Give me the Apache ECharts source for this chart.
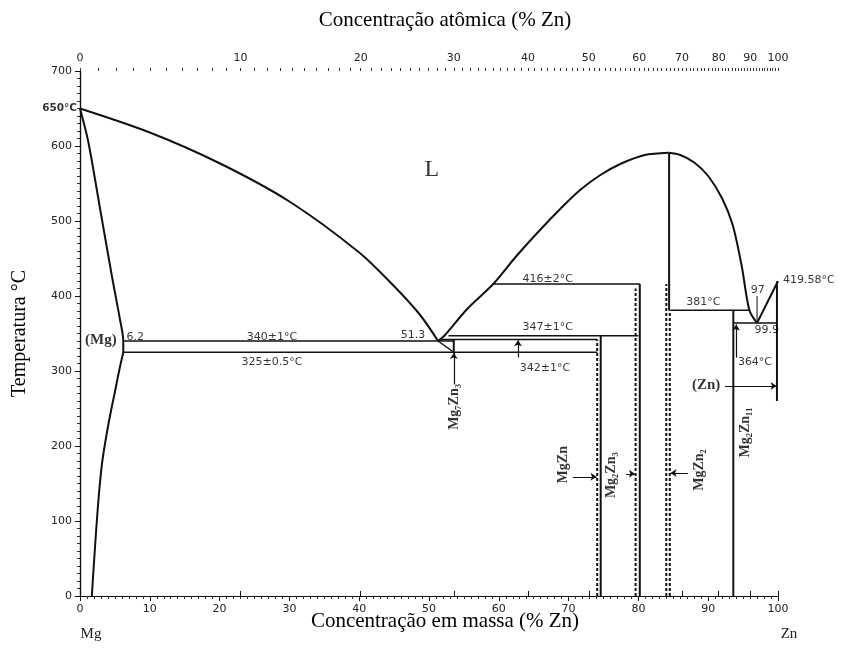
<!DOCTYPE html>
<html><head><meta charset="utf-8">
<script src="https://cdn.jsdelivr.net/npm/echarts@6/dist/echarts.min.js"></script>
<style>html,body{margin:0;padding:0;background:#fff}#chart{width:843px;height:657px}</style>
</head><body><div id="chart"></div>
<script>
// Mg–Zn equilibrium phase diagram (temperature vs. Zn content)

// axis ticks
const massTicks = [0, 10, 20, 30, 40, 50, 60, 70, 80, 90, 100];
const atomicTicks = [0, 10, 20, 30, 40, 50, 60, 70, 80, 90, 100];
const tempTicks = [0, 100, 200, 300, 400, 500, 600, 700];

// phase boundaries: [wt% Zn, °C]
const mgLiquidus = [[0, 650], [10, 618], [20, 577], [30, 526], [40, 458], [45, 413], [48.7, 375], [51.3, 340]];
const mgSolidus = [[0, 650], [1.2, 605], [2.9, 515], [4.6, 425], [5.7, 370], [6.2, 340], [6.2, 325]];
const mgSolvus = [[6.2, 325], [5.6, 300], [5.0, 272], [4.4, 245], [3.8, 215], [3.2, 180], [2.8, 145], [2.45, 105], [2.15, 65], [1.9, 30], [1.7, 0]];
const midLiquidus = [[51.3, 340], [52.3, 348], [55.5, 383], [59.2, 416], [62.5, 453], [65.9, 488], [68.8, 516], [71.6, 541], [74.5, 561], [77.4, 576], [80.9, 588], [84.3, 591]];
const mgZn2Liquidus = [[84.3, 591], [86, 588], [88, 578], [90, 560], [92, 530], [93.5, 495], [94.8, 440], [95.9, 381], [97, 364]];
const znLiquidus = [[97, 364], [98.5, 392], [100, 419.58]];
const eutecticTail = [[51.3, 340], [53.55, 325]];
const leader97 = [[97, 367], [97, 400]];

// invariant reactions: [from wt%, to wt%, °C]
const isotherms = [[6.2, 53.55, 340], [6.2, 74.1, 325], [51.6, 74.1, 342], [52.8, 80.0, 347], [59.2, 80.2, 416], [84.6, 95.9, 381], [93.6, 99.85, 364]];

// compound lines: [wt%, from °C, to °C]
const solidVerticals = [[53.55, 325, 342], [74.6, 0, 347], [80.2, 0, 416], [84.4, 381, 591], [93.6, 0, 381], [99.85, 260, 419.58]];
const dashedVerticals = [[74.1, 0, 342], [79.6, 0, 410], [84.0, 0, 416], [84.5, 0, 381]];

// arrows: [[x1, y1], [x2, y2]]
const arrows = [
  [[62.75, 318], [62.75, 341]],
  [[53.55, 282], [53.55, 324]],
  [[94.0, 318], [94.0, 362]],
  [[92.4, 280], [99.8, 280]],
  [[70.6, 159], [74.0, 159]],
  [[78.2, 163], [79.5, 163]],
  [[87.1, 164], [84.6, 164]]
];

// text annotations placed in data space
const annotations = [
  { text: '650°C', x: 0, y: 650, kind: 'numLeft' },
  { text: 'L', x: 50.4, y: 568, kind: 'big' },
  { text: '(Mg)', x: 3.0, y: 341, kind: 'serif' },
  { text: '6.2', x: 7.9, y: 345, kind: 'num' },
  { text: '340±1°C', x: 27.5, y: 345, kind: 'num' },
  { text: '325±0.5°C', x: 27.5, y: 312, kind: 'num' },
  { text: '51.3', x: 47.7, y: 348, kind: 'num' },
  { text: '347±1°C', x: 67, y: 359, kind: 'num' },
  { text: '342±1°C', x: 66.6, y: 304, kind: 'num' },
  { text: '416±2°C', x: 67, y: 423, kind: 'num' },
  { text: '381°C', x: 89.3, y: 392, kind: 'num' },
  { text: '97', x: 97.1, y: 408, kind: 'num' },
  { text: '419.58°C', x: 100, y: 421, kind: 'numRight' },
  { text: '99.9', x: 98.4, y: 355, kind: 'num' },
  { text: '364°C', x: 96.7, y: 312, kind: 'num' },
  { text: '(Zn)', x: 89.7, y: 281, kind: 'serif' },
  { text: 'Mg₇Zn₃', x: 53.7, y: 252, kind: 'rot' },
  { text: 'MgZn', x: 69.2, y: 175, kind: 'rot' },
  { text: 'Mg₂Zn₃', x: 76.2, y: 161, kind: 'rot' },
  { text: 'MgZn₂', x: 88.8, y: 168, kind: 'rot' },
  { text: 'Mg₂Zn₁₁', x: 95.3, y: 218, kind: 'rot' }
];

const M_ZN = 65.38, M_MG = 24.305;
const atToWt = a => 100 * a * M_ZN / (a * M_ZN + (100 - a) * M_MG);
const wtToAt = w => 100 * (w / M_ZN) / (w / M_ZN + (100 - w) / M_MG);

const minorAtomic = [];
for (let a = 0; a <= 100; a += 1) minorAtomic.push(atToWt(a));

const NUM_FONT = 'DejaVu Sans';
const SERIF = 'Liberation Serif';

function curve(data, width) {
  return {
    type: 'line', data, showSymbol: false, smooth: 0.3, silent: true,
    lineStyle: { color: '#111', width: width || 2 }, z: 3, clip: false
  };
}
function seg(data, width, dashed) {
  return {
    type: 'line', data, showSymbol: false, silent: true, clip: false,
    lineStyle: { color: '#111', width: width, type: dashed ? [3, 2] : 'solid' }, z: 3
  };
}

const series = [
  curve(mgLiquidus), curve(mgSolidus), curve(mgSolvus), curve(midLiquidus),
  curve(mgZn2Liquidus), curve(znLiquidus), seg(eutecticTail, 1.5), seg(leader97, 1)
];
isotherms.forEach(([a, b, t]) => series.push(seg([[a, t], [b, t]], 1.6)));
solidVerticals.forEach(([x, t0, t1]) => series.push(seg([[x, t0], [x, t1]], 2)));
dashedVerticals.forEach(([x, t0, t1]) => series.push(seg([[x, t0], [x, t1]], 2, true)));

series.push({
  type: 'lines', coordinateSystem: 'cartesian2d', silent: true,
  symbol: ['none', 'arrow'], symbolSize: 6,
  lineStyle: { color: '#111', width: 1.2, opacity: 1 },
  data: arrows.map(c => ({ coords: c }))
});

function labelFor(kind) {
  const base = { show: true, position: 'inside', color: '#000', verticalAlign: 'middle', align: 'center' };
  if (kind === 'num') return Object.assign(base, { fontFamily: NUM_FONT, fontSize: 11 });
  if (kind === 'numLeft') return Object.assign(base, { fontFamily: NUM_FONT, fontSize: 10.5, fontWeight: 'bold', align: 'right', offset: [-3, 0] });
  if (kind === 'numRight') return Object.assign(base, { fontFamily: NUM_FONT, fontSize: 11, align: 'left', offset: [5, 0] });
  if (kind === 'big') return Object.assign(base, { fontFamily: SERIF, fontSize: 24 });
  if (kind === 'serif') return Object.assign(base, { fontFamily: SERIF, fontSize: 15, fontWeight: 'bold' });
  if (kind === 'rot') return Object.assign(base, { fontFamily: SERIF, fontSize: 14, fontWeight: 'bold', rotate: 90 });
  return base;
}

series.push({
  type: 'scatter', symbolSize: 0, silent: true, clip: false, z: 5,
  data: annotations.map(a => ({ value: [a.x, a.y], label: Object.assign(labelFor(a.kind), { formatter: a.text }) }))
});

const axisText = { fontFamily: NUM_FONT, fontSize: 11, color: '#222' };
const chart = echarts.init(document.getElementById('chart'), null, { renderer: 'canvas' });
chart.setOption({
  animation: false,
  backgroundColor: '#fff',
  grid: { left: 80, right: 65, top: 71, bottom: 61 },
  xAxis: [
    {
      type: 'value', position: 'bottom', min: 0, max: 100, interval: 10,
      axisLine: { lineStyle: { color: '#111', width: 1.2 } },
      axisTick: { length: 5, lineStyle: { color: '#111' } },
      minorTick: { show: true, splitNumber: 10, length: 3, lineStyle: { color: '#333' } },
      axisLabel: Object.assign({ margin: 8, formatter: v => massTicks.includes(v) ? String(v) : '' }, axisText),
      splitLine: { show: false }
    },
    {
      type: 'value', position: 'top', min: 0, max: 100,
      axisLine: { lineStyle: { color: '#111', width: 1.2 } },
      axisTick: { customValues: atomicTicks.map(atToWt), length: 5, lineStyle: { color: '#111' } },
      axisLabel: Object.assign({ margin: 7, customValues: atomicTicks.map(atToWt), formatter: v => String(Math.round(wtToAt(v))) }, axisText),
      splitLine: { show: false }
    },
    {
      type: 'value', position: 'top', min: 0, max: 100,
      axisLine: { show: false },
      axisTick: { customValues: minorAtomic, length: 3, lineStyle: { color: '#333' } },
      axisLabel: { show: false },
      splitLine: { show: false }
    }
  ],
  yAxis: [
    {
      type: 'value', position: 'left', min: 0, max: 700, interval: 100,
      name: 'Temperatura °C', nameLocation: 'middle', nameGap: 50,
      nameTextStyle: { fontFamily: SERIF, fontSize: 20, color: '#000' },
      axisLine: { show: true, lineStyle: { color: '#111', width: 1.2 } },
      axisTick: { show: true, length: 5, lineStyle: { color: '#111' } },
      minorTick: { show: true, splitNumber: 10, length: 3, lineStyle: { color: '#333' } },
      axisLabel: Object.assign({ margin: 8, formatter: v => tempTicks.includes(v) ? String(v) : '' }, axisText),
      splitLine: { show: false }
    },
    {
      type: 'value', position: 'right', min: 0, max: 700, interval: 100,
      axisLine: { show: true, lineStyle: { color: '#111', width: 1.2 } },
      axisTick: { show: true, inside: true, length: 4, lineStyle: { color: '#111' } },
      minorTick: { show: true, splitNumber: 10, length: 2, lineStyle: { color: '#333' } },
      axisLabel: { show: false },
      splitLine: { show: false }
    }
  ],
  graphic: [
    { type: 'text', x: 445, y: 20, style: { text: 'Concentração atômica (% Zn)', font: '21px "Liberation Serif"', fill: '#000', align: 'center', verticalAlign: 'middle' } },
    { type: 'text', x: 445, y: 621, style: { text: 'Concentração em massa (% Zn)', font: '21px "Liberation Serif"', fill: '#000', align: 'center', verticalAlign: 'middle' } },
    { type: 'text', x: 91, y: 634, style: { text: 'Mg', font: '15px "Liberation Serif"', fill: '#222', align: 'center', verticalAlign: 'middle' } },
    { type: 'text', x: 789, y: 634, style: { text: 'Zn', font: '15px "Liberation Serif"', fill: '#222', align: 'center', verticalAlign: 'middle' } }
  ],
  series
});
</script>
</body></html>
